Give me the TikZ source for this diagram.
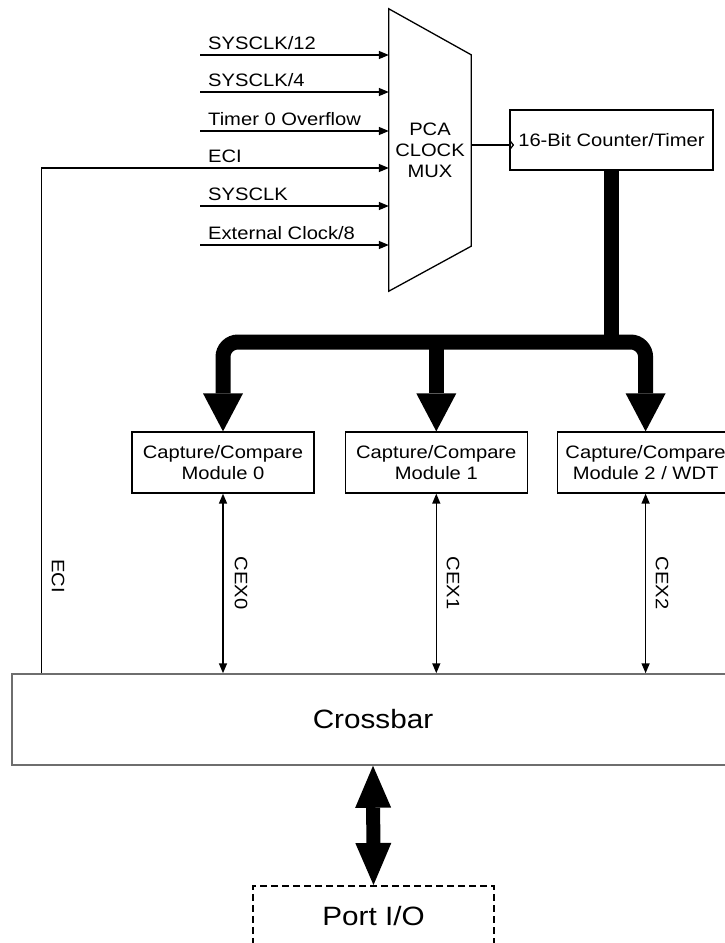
\documentclass[tikz,border=0pt]{standalone}
\usepackage{fontspec}
\setmainfont{Liberation Sans}[FakeStretch=1.12]
\usepackage{tikz}
\usetikzlibrary{
  arrows.meta,
  positioning,
  calc
}
\definecolor{xbargray}{RGB}{110,110,110}

\begin{document}
\begin{tikzpicture}[
    x=1pt, y=-1pt,
    blk/.style={draw=black, line width=1.3pt, align=center, inner sep=0pt, font=\fontsize{18}{21}\selectfont},
    lbl/.style={inner sep=0pt, font=\fontsize{18}{21}\selectfont},
    big/.style={inner sep=0pt, font=\fontsize{26.5}{30}\selectfont},
    sig/.style={line width=1.5pt, -{Triangle[length=10pt,width=8pt]}},
    cex/.style={line width=1.5pt, {Triangle[length=10pt,width=8pt]}-{Triangle[length=10pt,width=8pt]}},
    bus/.style={line width=15pt, rounded corners=15pt},
    bustip/.tip={Triangle[length=38pt,width=40pt,line width=0pt]},
    iotip/.tip={Triangle[length=42pt,width=36pt,line width=0pt]}
  ]
    \useasboundingbox (0,0) rectangle (725,943);
    \clip (0,0) rectangle (725,943);

    % PCA clock mux and counter
    \node[lbl, align=center, minimum width=82pt, minimum height=282pt] (mux) at (430,150) {PCA\\CLOCK\\MUX};
    \draw[line width=1.3pt] (mux.north west) -- ([yshift=-46pt]mux.north east)
      -- ([yshift=45pt]mux.south east) -- (mux.south west) -- cycle;
    \node[blk, minimum width=203pt, minimum height=60pt] (ctr) at (611.5,140) {16-Bit Counter/Timer};

    % capture/compare modules
    \node[blk, minimum width=182pt, minimum height=61pt] (cc0) at (223,462.5) {Capture/Compare\\Module 0};
    \node[blk, minimum width=182pt, minimum height=61pt, right=30pt of cc0] (cc1) {Capture/Compare\\Module 1};
    \node[blk, minimum width=176pt, minimum height=61pt, right=29pt of cc1] (cc2) {Capture/Compare\\Module 2 / WDT};

    % crossbar and port
    \node[big, draw=xbargray, line width=1.5pt, minimum width=722pt, minimum height=91pt] (xbar) at (373,719.5) {Crossbar};
    \node[big, draw=black, line width=1.6pt, dash pattern=on 7pt off 4pt, minimum width=241pt, minimum height=60pt, anchor=north] (port) at (373.5,885) {Port I/O};

    % clock inputs
    \foreach \yy/\txt/\nm in {55/{SYSCLK/12}/a, 92/{SYSCLK/4}/b, 131/{Timer 0 Overflow}/c, 206/{SYSCLK}/e, 245/{External Clock/8}/f} {
      \coordinate (in\nm) at (200,\yy);
      \node[lbl, anchor=base west] (lab\nm) at (208,\yy-6) {\txt};
      \draw[sig] (in\nm) -- (in\nm -| mux.west);
    }
    \coordinate (ind) at (200,168);
    \node[lbl, anchor=base west] (labd) at (208,162) {ECI};
    \coordinate (ecibot) at ([xshift=30pt]xbar.north west);
    \draw[sig] (ecibot) |- (ind -| mux.west);
    \node[lbl, rotate=-90] (ecilab) at (58,576) {ECI};

    % mux output to counter
    \coordinate (clk) at ([yshift=-5pt]ctr.west);
    \draw[line width=1.3pt] (clk -| mux.east) -- (clk);
    \draw[line width=1.3pt] ([yshift=5pt]clk) -- ([xshift=4pt]clk) -- ([yshift=-5pt]clk);

    % counter bus
    \coordinate (tap) at (ctr.south |- 0,342);
    \draw[bus] (ctr.south) -- (tap);
    \draw[bus, bustip-bustip] (cc0.north) |- (cc2.north |- tap) -- (cc2.north);
    \draw[bus, -bustip] (cc1.north |- tap) -- (cc1.north);

    % CEX lines
    \draw[cex] (cc0.south) -- (cc0.south |- xbar.north);
    \draw[cex] (cc1.south) -- (cc1.south |- xbar.north);
    \draw[cex] (cc2.south) -- (cc2.south |- xbar.north);
    \node[lbl, rotate=-90] (cex0) at (241,583) {CEX0};
    \node[lbl, rotate=-90] (cex1) at (453,583) {CEX1};
    \node[lbl, rotate=-90] (cex2) at (662,583) {CEX2};

    % crossbar to port
    \draw[line width=14pt, iotip-iotip] (xbar.south) -- (port.north);
\end{tikzpicture}
\end{document}
